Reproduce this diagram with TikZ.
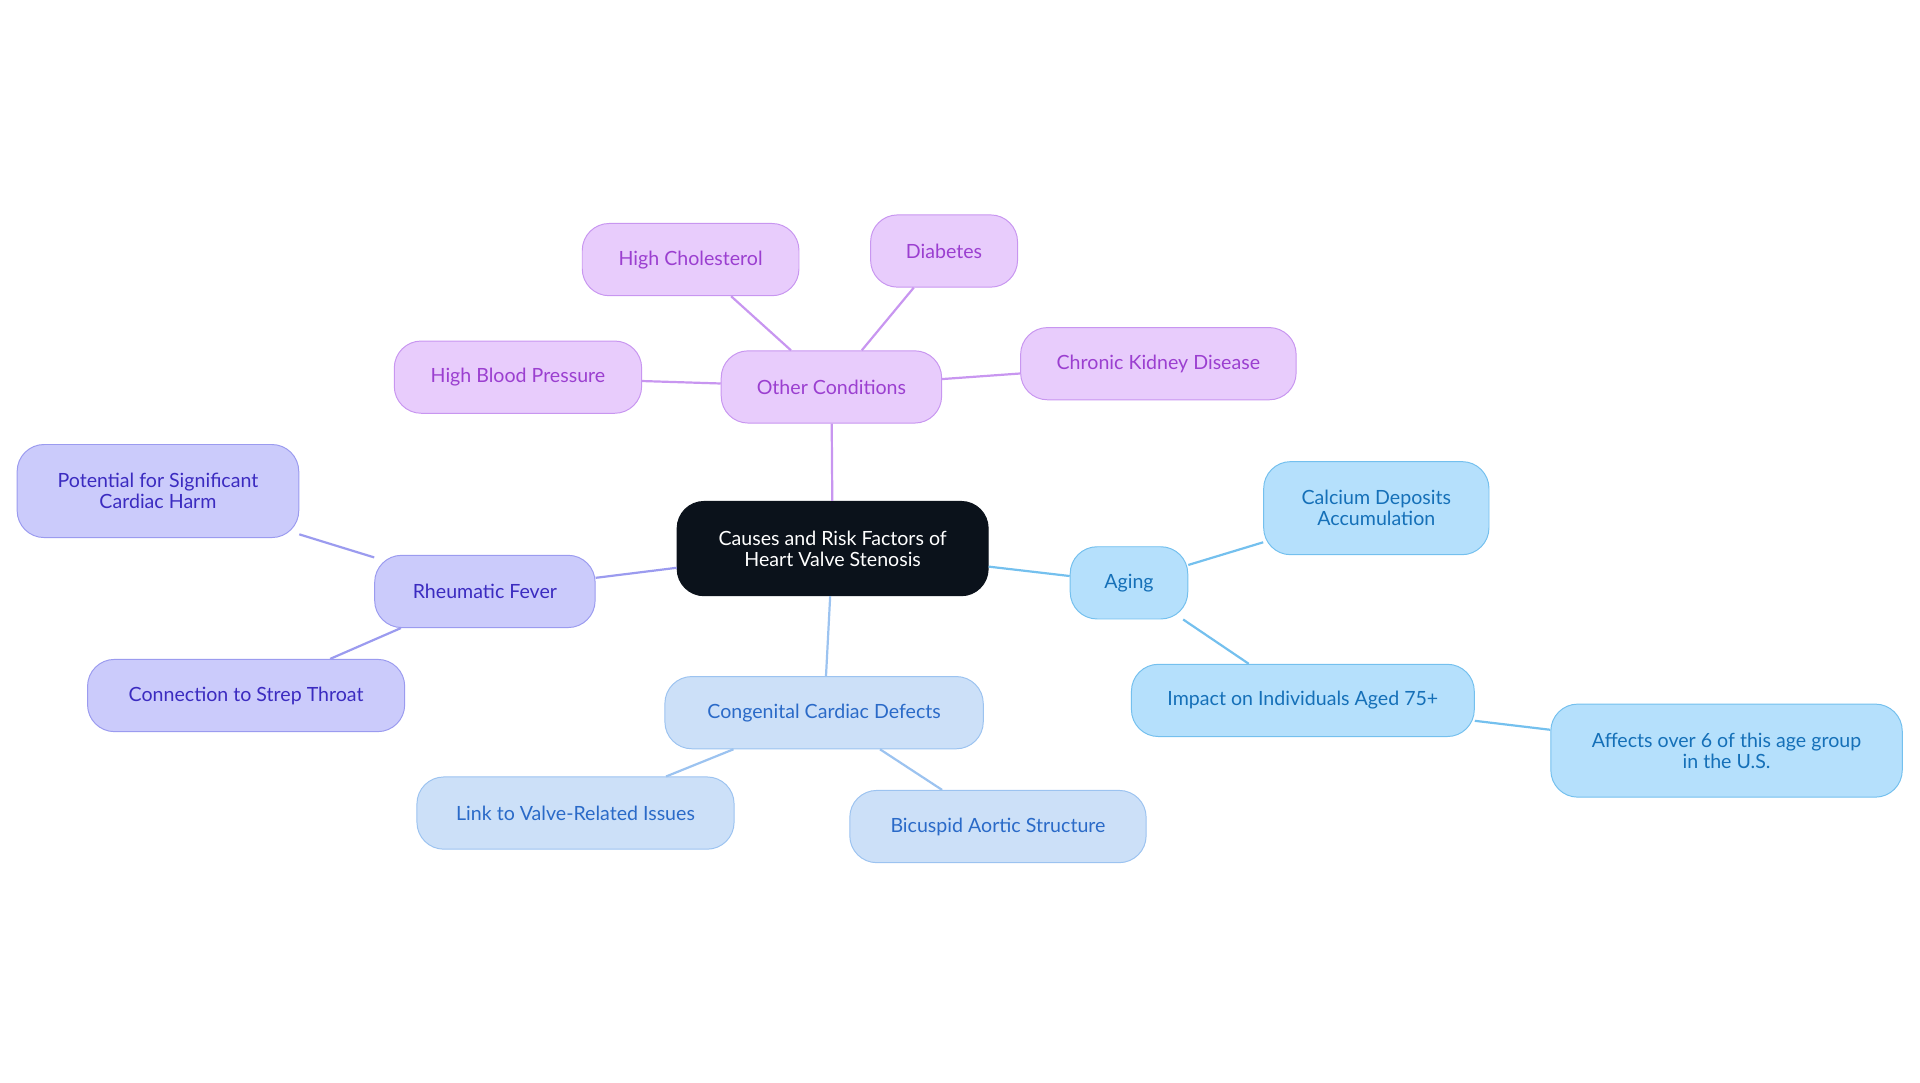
\documentclass[tikz,border=0pt]{standalone}
\usepackage{fontspec}
\setmainfont{Lato}
\begin{document}
\begin{tikzpicture}[x=1pt,y=-1pt,
 base/.style={rounded corners=22pt,align=center,inner sep=0pt,font=\fontsize{16}{17}\selectfont,line width=0.8pt},
 pur/.style={base,fill=purple!0!white,fill={rgb,255:red,232;green,204;blue,252},draw={rgb,255:red,200;green,150;blue,240},text={rgb,255:red,155;green,63;blue,208}},
 ind/.style={base,fill={rgb,255:red,203;green,203;blue,251},draw={rgb,255:red,155;green,155;blue,239},text={rgb,255:red,59;green,43;blue,192}},
 lbl/.style={base,fill={rgb,255:red,204;green,224;blue,248},draw={rgb,255:red,156;green,195;blue,240},text={rgb,255:red,42;green,106;blue,200}},
 sky/.style={base,fill={rgb,255:red,181;green,224;blue,252},draw={rgb,255:red,116;green,192;blue,238},text={rgb,255:red,21;green,112;blue,184}},
 epur/.style={draw={rgb,255:red,200;green,150;blue,240},line width=1.8pt},
 eind/.style={draw={rgb,255:red,155;green,155;blue,239},line width=1.8pt},
 elbl/.style={draw={rgb,255:red,156;green,195;blue,240},line width=1.8pt},
 esky/.style={draw={rgb,255:red,116;green,192;blue,238},line width=1.8pt}]
\useasboundingbox (0,0) rectangle (1568,884);
\node[base,fill={rgb,255:red,11;green,18;blue,27},draw={rgb,255:red,11;green,18;blue,27},text=white,minimum width=254pt,minimum height=77pt] (c) at (680,448) {Causes and Risk Factors of\\Heart Valve Stenosis};
\node[pur,minimum width=180pt,minimum height=59pt] (oc) at (679,316) {Other Conditions};
\node[pur,minimum width=177pt,minimum height=59pt] (hc) at (564,212) {High Cholesterol};
\node[pur,minimum width=120pt,minimum height=59pt] (di) at (771,205) {Diabetes};
\node[pur,minimum width=202pt,minimum height=59pt] (hb) at (423,308) {High Blood Pressure};
\node[pur,minimum width=225pt,minimum height=59pt] (ck) at (946,297) {Chronic Kidney Disease};
\node[ind,minimum width=180pt,minimum height=59pt] (rf) at (396,483) {Rheumatic Fever};
\node[ind,minimum width=230pt,minimum height=76pt] (po) at (129,401) {Potential for Significant\\Cardiac Harm};
\node[ind,minimum width=259pt,minimum height=59pt] (st) at (201,568) {Connection to Strep Throat};
\node[lbl,minimum width=260pt,minimum height=59pt] (cd) at (673,582) {Congenital Cardiac Defects};
\node[lbl,minimum width=259pt,minimum height=59pt] (lv) at (470,664) {Link to Valve-Related Issues};
\node[lbl,minimum width=242pt,minimum height=59pt] (bi) at (815,675) {Bicuspid Aortic Structure};
\node[sky,minimum width=96pt,minimum height=59pt] (ag) at (922,476) {Aging};
\node[sky,minimum width=184pt,minimum height=76pt] (ca) at (1124,415) {Calcium Deposits\\Accumulation};
\node[sky,minimum width=280pt,minimum height=59pt] (im) at (1064,572) {Impact on Individuals Aged 75+};
\node[sky,minimum width=287pt,minimum height=76pt] (af) at (1410,613) {Affects over 6 of this age group\\in the U.S.};
\begin{scope}[on background layer/.style={}]
\end{scope}
\path[epur] (c) -- (oc) (oc) -- (hc) (oc) -- (di) (oc) -- (hb) (oc) -- (ck);
\path[eind] (c) -- (rf) (rf) -- (po) (rf) -- (st);
\path[elbl] (c) -- (cd) (cd) -- (lv) (cd) -- (bi);
\path[esky] (c) -- (ag) (ag) -- (ca) (ag) -- (im) (im) -- (af);
\end{tikzpicture}
\end{document}
